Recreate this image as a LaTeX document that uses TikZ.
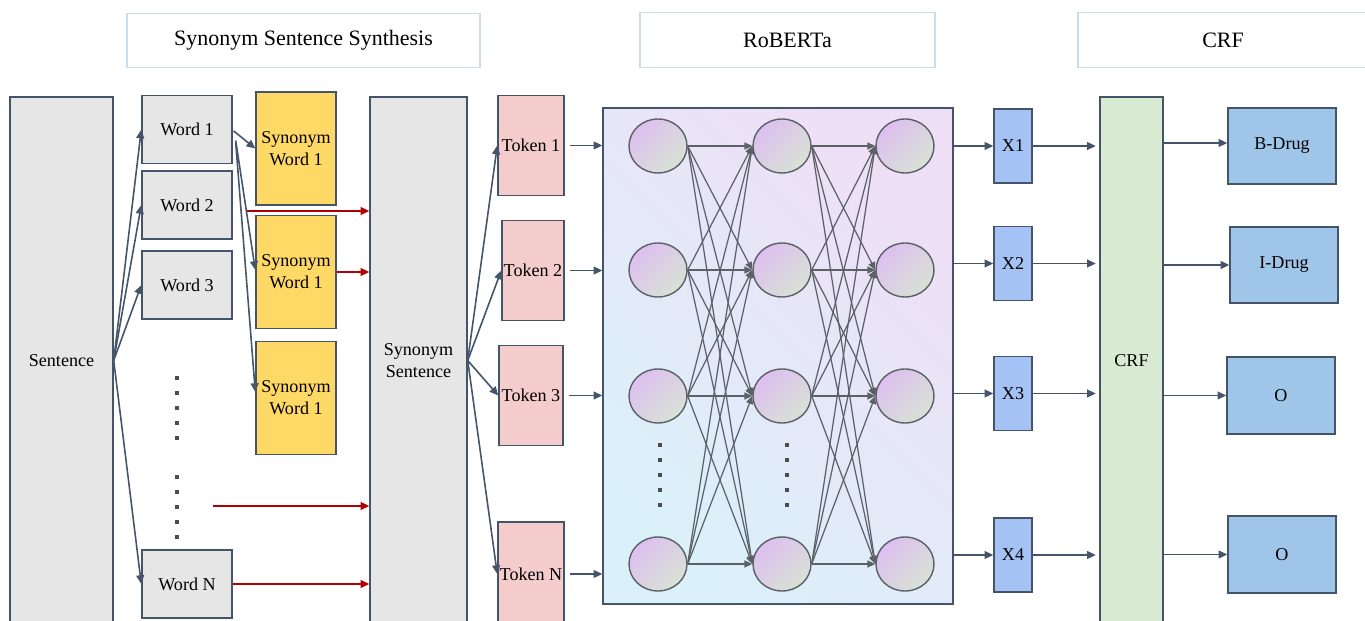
\documentclass[tikz,border=0pt]{standalone}
\usepackage{fontspec}
\setmainfont{Liberation Serif}
\usetikzlibrary{arrows.meta, positioning, calc, shapes.geometric}

\definecolor{edge}{HTML}{44546A}
\definecolor{greybox}{HTML}{E7E6E6}
\definecolor{synfill}{HTML}{FFD966}
\definecolor{tokfill}{HTML}{F4CCCC}
\definecolor{xfill}{HTML}{A4C2F4}
\definecolor{outfill}{HTML}{9FC5E8}
\definecolor{crffill}{HTML}{D9EAD3}
\definecolor{redline}{HTML}{B00000}
\definecolor{titleline}{HTML}{C9DCF0}
\definecolor{linkgrey}{HTML}{5C6168}
\definecolor{robtop}{HTML}{EFDFF6}
\definecolor{robbottom}{HTML}{DAF1FA}
\definecolor{neutop}{HTML}{DDBFF0}
\definecolor{neubottom}{HTML}{D8E2D5}

\begin{document}
\begin{tikzpicture}[
  font=\fontsize{10.3}{12.5}\selectfont,
  box/.style={draw=edge, rectangle, line width=0.8pt, align=center, inner sep=0pt, fill=greybox},
  title/.style={draw=titleline, rectangle, line width=0.6pt, align=center, fill=white, minimum height=1.09cm, font=\fontsize{12.5}{14}\selectfont},
  neuron/.style={ellipse, draw=linkgrey, line width=0.8pt, minimum width=1.16cm, minimum height=1.08cm, top color=neutop, bottom color=neubottom, shading angle=45},
  arr/.style={-{Triangle[length=5pt,width=4.5pt]}, line width=0.9pt, draw=edge},
  redarr/.style={arr, draw=redline},
  link/.style={-{Triangle[length=4.5pt,width=4pt]}, line width=0.7pt, draw=linkgrey},
  dot/.style={fill=black!70, minimum size=2.2pt, inner sep=0pt, rectangle}
]
  \useasboundingbox (0,0) rectangle (27.3,-12.42);

  % section titles
  \node[title, minimum width=7.06cm] (tsyn) at (6.07,-0.81) {Synonym Sentence Synthesis};
  \node[title, minimum width=5.90cm] (trob) at (15.75,-0.80) {RoBERTa};
  \node[title, minimum width=5.80cm] (tcrf) at (24.46,-0.80) {CRF};

  % synonym sentence synthesis
  \node[box, minimum width=2.06cm, minimum height=10.54cm] (sen) at (1.23,-7.21) {Sentence};
  \node[box, minimum width=1.8cm, minimum height=1.36cm] (w1) at (3.74,-2.59) {Word 1};
  \node[box, minimum width=1.8cm, minimum height=1.36cm] (w2) at (3.74,-4.10) {Word 2};
  \node[box, minimum width=1.8cm, minimum height=1.36cm] (w3) at (3.74,-5.70) {Word 3};
  \node[box, minimum width=1.8cm, minimum height=1.36cm] (wN) at (3.74,-11.68) {Word N};
  \foreach \y in {378,393,408,423,438,477,492,507,522,537}
    \node[dot] at (3.54,-\y/50) {};

  \node[box, fill=synfill, minimum width=1.6cm, minimum height=2.26cm] (syn1) at (5.92,-2.97) {Synonym\\Word 1};
  \node[box, fill=synfill, minimum width=1.6cm, minimum height=2.26cm] (syn2) at (5.92,-5.44) {Synonym\\Word 1};
  \node[box, fill=synfill, minimum width=1.6cm, minimum height=2.26cm] (syn3) at (5.92,-7.96) {Synonym\\Word 1};

  \node[box, minimum width=1.94cm, minimum height=10.54cm] (ss) at (8.37,-7.21) {Synonym\\Sentence};

  \coordinate (r1) at (4.94,-4.22);
  \coordinate (r3) at (4.26,-10.12);

  \draw[arr] (sen.east) -- (w1.west);
  \draw[arr] (sen.east) -- (w2.west);
  \draw[arr] (sen.east) -- (w3.west);
  \draw[arr] (sen.east) -- (wN.west);
  \draw[arr] ($(w1.east)+(0.02,-0.03)$) -- (syn1.west);
  \draw[arr] ($(w1.east)+(0.06,-0.22)$) -- ($(syn2.west)+(0,0.04)$);
  \draw[arr] ($(w1.east)+(0.06,-0.26)$) -- ($(syn3.west)+(0,0.12)$);
  \draw[redarr] (r1) -- (r1 -| ss.west);
  \draw[redarr] (syn2.east) -- (syn2.east -| ss.west);
  \draw[redarr] (r3) -- (r3 -| ss.west);
  \draw[redarr] (wN.east) -- (wN.east -| ss.west);

  % tokens
  \node[box, fill=tokfill, minimum width=1.32cm, minimum height=2.0cm] (t1) at (10.62,-2.91) {Token 1};
  \node[box, fill=tokfill, minimum width=1.24cm, minimum height=2.0cm] (t2) at (10.66,-5.41) {Token 2};
  \node[box, fill=tokfill, minimum width=1.28cm, minimum height=2.0cm] (t3) at (10.62,-7.91) {Token 3};
  \node[box, fill=tokfill, minimum width=1.32cm, minimum height=2.08cm] (tN) at (10.62,-11.48) {Token N};

  \draw[arr] (ss.east) -- (t1.west);
  \draw[arr] (ss.east) -- (t2.west);
  \draw[arr] (ss.east) -- (t3.west);
  \draw[arr] (ss.east) -- (tN.west);

  % RoBERTa layers
  \node[box, top color=robtop, bottom color=robbottom, shading angle=-45, minimum width=7.0cm, minimum height=9.92cm] (rob) at (15.56,-7.12) {};

  \draw[arr, shorten <=3pt] (t1.east) -- (t1.east -| rob.west);
  \draw[arr, shorten <=3pt] (t2.east) -- (t2.east -| rob.west);
  \draw[arr, shorten <=3pt] (t3.east) -- (t3.east -| rob.west);
  \draw[arr, shorten <=3pt] (tN.east) -- (tN.east -| rob.west);

  \foreach \i/\y in {1/-2.92, 2/-5.40, 3/-7.92, 4/-11.28} {
    \node[neuron] (a\i) at (13.16,\y) {};
    \node[neuron] (b\i) at (15.64,\y) {};
    \node[neuron] (c\i) at (18.10,\y) {};
  }
  \foreach \i in {1,...,4}
    \foreach \j in {1,...,4} {
      \draw[link] (a\i.east) -- (b\j.west);
      \draw[link] (b\i.east) -- (c\j.west);
    }
  \foreach \y in {445,460,475,490,505} {
    \node[dot] at (13.2,-\y/50) {};
    \node[dot] at (15.74,-\y/50) {};
  }

  % CRF
  \node[box, fill=xfill, minimum width=0.76cm, minimum height=1.48cm] (x1) at (20.26,-2.92) {X1};
  \node[box, fill=xfill, minimum width=0.76cm, minimum height=1.48cm] (x2) at (20.26,-5.27) {X2};
  \node[box, fill=xfill, minimum width=0.76cm, minimum height=1.48cm] (x3) at (20.26,-7.87) {X3};
  \node[box, fill=xfill, minimum width=0.76cm, minimum height=1.48cm] (x4) at (20.26,-11.10) {X4};

  \node[box, fill=crffill, minimum width=1.26cm, minimum height=10.54cm] (crf) at (22.63,-7.21) {CRF};

  \node[box, fill=outfill, minimum width=2.16cm, minimum height=1.52cm] (o1) at (25.64,-2.92) {B-Drug};
  \node[box, fill=outfill, minimum width=2.16cm, minimum height=1.52cm] (o2) at (25.68,-5.30) {I-Drug};
  \node[box, fill=outfill, minimum width=2.16cm, minimum height=1.54cm] (o3) at (25.62,-7.91) {O};
  \node[box, fill=outfill, minimum width=2.16cm, minimum height=1.54cm] (o4) at (25.64,-11.09) {O};

  \draw[arr] (rob.east |- x1) -- (x1.west);
  \draw[arr] (rob.east |- x2) -- (x2.west);
  \draw[arr] (rob.east |- x3) -- (x3.west);
  \draw[arr] (rob.east |- x4) -- (x4.west);
  \draw[arr, shorten >=2pt] (x1.east) -- (x1.east -| crf.west);
  \draw[arr, shorten >=2pt] (x2.east) -- (x2.east -| crf.west);
  \draw[arr, shorten >=2pt] (x3.east) -- (x3.east -| crf.west);
  \draw[arr, shorten >=2pt] (x4.east) -- (x4.east -| crf.west);
  \draw[arr] ($(o1.west -| crf.east)+(0,0.06)$) -- ($(o1.west)+(0,0.06)$);
  \draw[arr] (o2.west -| crf.east) -- (o2.west);
  \draw[arr] (o3.west -| crf.east) -- (o3.west);
  \draw[arr] (o4.west -| crf.east) -- (o4.west);
\end{tikzpicture}
\end{document}
